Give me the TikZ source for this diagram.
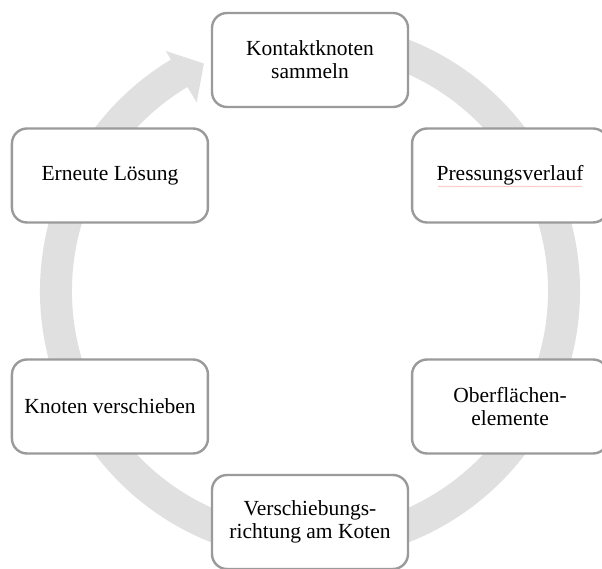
\documentclass[tikz,border=0pt]{standalone}
\usepackage{fontspec}
\setmainfont{Liberation Serif}
\usetikzlibrary{decorations.pathmorphing}

\definecolor{ringgray}{HTML}{E0E0E0}
\definecolor{boxgray}{HTML}{9A9A9A}

\begin{document}
\begin{tikzpicture}[x=1pt, y=1pt,
    stepbox/.style={draw=boxgray, line width=2.4pt, fill=white, rounded corners=15pt,
        minimum width=196pt, minimum height=94pt, align=center,
        font=\fontsize{21.5}{23}\selectfont}]
    \useasboundingbox (-310, -278) rectangle (292, 291);

    \fill[ringgray] (80:270) arc[start angle=80, end angle=-239, radius=270]
        -- (-239:280) -- (-245:251) -- (-239:220) -- (-239:238)
        arc[start angle=-239, end angle=80, radius=238] -- cycle;

    \node[stepbox] (sammeln) at (90:231) {Kontaktknoten\\sammeln};
    \node[stepbox] (pressung) at (30:231) {Pressungsverlauf};
    \node[stepbox] (oberfl) at (-30:231) {Oberflächen-\\elemente};
    \node[stepbox] (richtung) at (-90:231) {Verschiebungs-\\richtung am Koten};
    \node[stepbox] (verschieben) at (-150:231) {Knoten verschieben};
    \node[stepbox] (loesung) at (150:231) {Erneute Lösung};

    \draw[red!30, line width=0.5pt, decorate, decoration={snake, amplitude=0.5pt, segment length=3pt}]
        ([shift={(-72,-11)}]pressung.center) -- ([shift={(72,-11)}]pressung.center);
\end{tikzpicture}
\end{document}
